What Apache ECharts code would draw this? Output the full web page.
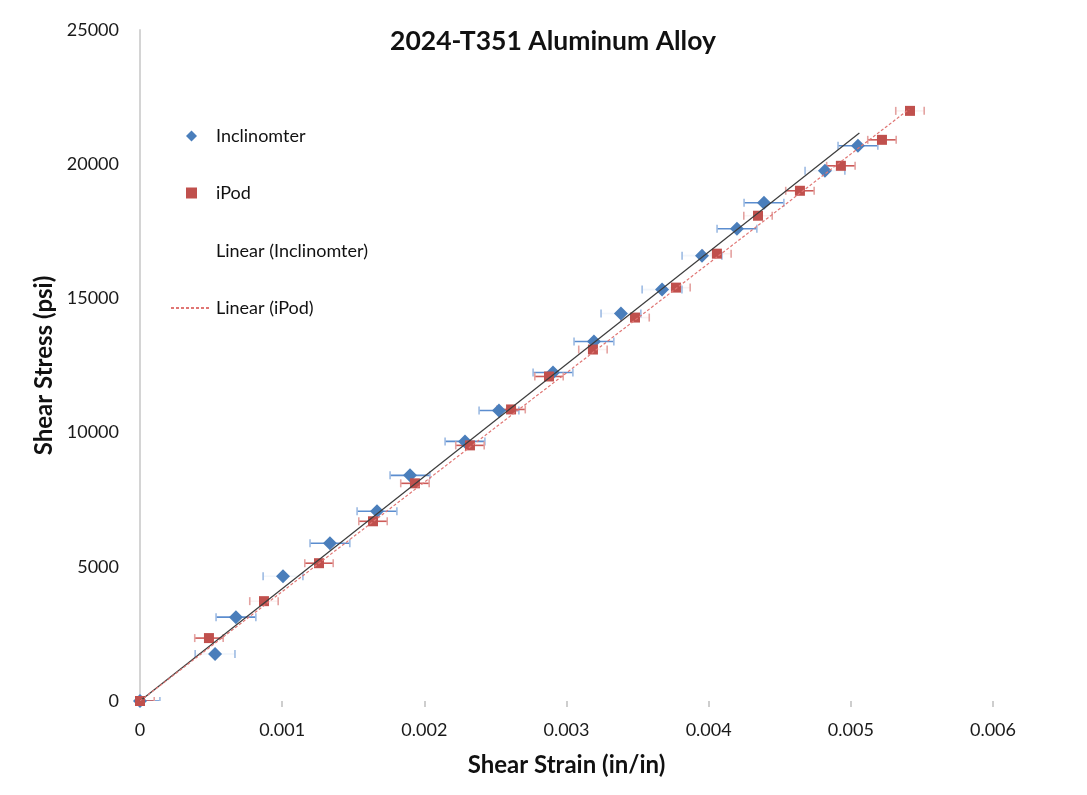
<!DOCTYPE html>
<html>
<head>
<meta charset="utf-8">
<script src="https://cdn.jsdelivr.net/npm/echarts@6/dist/echarts.min.js"></script>
<style>html,body{margin:0;padding:0;background:#fff;}#chart{width:1087px;height:795px;}</style>
</head>
<body>
<div id="chart"></div>
<script>
// Inclinometer data (shear strain in/in, shear stress psi)
var inclStrain = [0, 0.000528, 0.000675, 0.001006, 0.001336, 0.001667, 0.001899, 0.002286, 0.002525, 0.002905, 0.003193, 0.003383, 0.003672, 0.003953, 0.004199, 0.004389, 0.004818, 0.005050];
var inclStress = [0, 1750, 3125, 4650, 5878, 7068, 8408, 9673, 10826, 12240, 13393, 14435, 15327, 16592, 17597, 18564, 19754, 20685];
var inclErr    = [0.00014, 0.00014, 0.00014, 0.00014, 0.00014, 0.00014, 0.00014, 0.00014, 0.00014, 0.00014, 0.00014, 0.00014, 0.00014, 0.00014, 0.00014, 0.00014, 0.00014, 0.00014];
var inclBarFaint = [0, 1, 0, 1, 0, 0, 0, 0, 0, 0, 0, 1, 1, 1, 0, 0, 1, 0];

// iPod data
var ipodStrain = [0, 0.000485, 0.000872, 0.001259, 0.001639, 0.001934, 0.002321, 0.002610, 0.002877, 0.003186, 0.003482, 0.003770, 0.004058, 0.004347, 0.004642, 0.004930, 0.005219, 0.005416];
var ipodStress = [0, 2344, 3720, 5134, 6696, 8110, 9524, 10863, 12091, 13095, 14286, 15402, 16667, 18080, 19010, 19940, 20908, 21987];
var ipodErr    = [0.0001, 0.0001, 0.0001, 0.0001, 0.0001, 0.0001, 0.0001, 0.0001, 0.0001, 0.0001, 0.0001, 0.0001, 0.0001, 0.0001, 0.0001, 0.0001, 0.0001, 0.0001];
var ipodBarFaint = [0, 0, 1, 0, 0, 0, 0, 0, 0, 1, 1, 1, 1, 1, 0, 0, 0, 1];

// Linear trend lines (endpoints)
var inclTrendStrain = [0, 0.00506];
var inclTrendStress = [0, 21160];
var ipodTrendStrain = [0, 0.00541];
var ipodTrendStress = [0, 22050];

// Axis ticks
var xTicks = [0, 0.001, 0.002, 0.003, 0.004, 0.005, 0.006];
var yTicks = [0, 5000, 10000, 15000, 20000, 25000];

var FONT = 'Lato';
function pairs(a, b) { return a.map(function (v, i) { return [v, b[i]]; }); }
function errData(xs, ys, es, fs) { return xs.map(function (v, i) { return [v, ys[i], es[i], fs[i]]; }); }

function errRender(lineColor, capColor) {
  return function (params, api) {
    var x = api.value(0), y = api.value(1), e = api.value(2), faint = api.value(3);
    var p0 = api.coord([x - e, y]);
    var p1 = api.coord([x + e, y]);
    var h = 4;
    var children = [
      { type: 'line', shape: { x1: p0[0], y1: p0[1], x2: p1[0], y2: p1[1] },
        style: { stroke: lineColor, lineWidth: 1.6, opacity: faint ? 0.08 : 1 } },
      { type: 'line', shape: { x1: p0[0], y1: p0[1] - h, x2: p0[0], y2: p0[1] + h },
        style: { stroke: capColor, lineWidth: 1.6 } },
      { type: 'line', shape: { x1: p1[0], y1: p1[1] - h, x2: p1[0], y2: p1[1] + h },
        style: { stroke: capColor, lineWidth: 1.6 } }
    ];
    return { type: 'group', children: children };
  };
}

var legendText = { fontFamily: FONT, fontSize: 18, color: '#111', lineHeight: 22 };

var chart = echarts.init(document.getElementById('chart'));
chart.setOption({
  backgroundColor: '#ffffff',
  animation: false,
  title: {
    text: '2024-T351 Aluminum Alloy',
    left: 548, top: 23, textAlign: 'center',
    textStyle: { fontFamily: FONT, fontWeight: 'bold', fontSize: 26.5, color: '#111' }
  },
  grid: { left: 140, right: 94, top: 30, bottom: 94 },
  legend: [
    {
      orient: 'vertical', left: 181, top: 120,
      itemWidth: 11, itemHeight: 11, itemGap: 35,
      textStyle: Object.assign({ padding: [0, 0, 0, 14] }, legendText),
      data: [
        { name: 'Inclinomter', icon: 'diamond' },
        { name: 'iPod', icon: 'rect' }
      ]
    },
    {
      orient: 'vertical', left: 165, top: 235,
      itemWidth: 40, itemHeight: 10, itemGap: 35,
      textStyle: legendText,
      data: [
        { name: 'Linear (Inclinomter)', lineStyle: { opacity: 0 }, itemStyle: { opacity: 0 } },
        { name: 'Linear (iPod)', itemStyle: { opacity: 0 } }
      ]
    }
  ],
  xAxis: {
    type: 'value', min: 0, max: 0.006, interval: 0.001,
    name: 'Shear Strain (in/in)', nameLocation: 'middle', nameGap: 52,
    nameTextStyle: { fontFamily: FONT, fontWeight: 'bold', fontSize: 24, color: '#111' },
    axisLine: { show: false },
    axisTick: { show: true, length: 6, lineStyle: { color: '#bfbfbf', width: 1.5 } },
    splitLine: { show: false },
    axisLabel: {
      fontFamily: FONT, fontSize: 18, color: '#1a1a1a', margin: 20,
      formatter: function (v) { return xTicks.indexOf(+v.toFixed(3)) >= 0 ? String(+v.toFixed(3)) : ''; }
    }
  },
  yAxis: {
    type: 'value', min: 0, max: 25000, interval: 5000,
    name: 'Shear Stress (psi)', nameLocation: 'middle', nameGap: 83,
    nameTextStyle: { fontFamily: FONT, fontWeight: 'bold', fontSize: 24, color: '#111' },
    axisLine: { show: true, lineStyle: { color: '#d4d4d4', width: 2 } },
    axisTick: { show: false },
    splitLine: { show: false },
    axisLabel: {
      fontFamily: FONT, fontSize: 18, color: '#1a1a1a', margin: 21,
      formatter: function (v) { return yTicks.indexOf(v) >= 0 ? String(v) : ''; }
    }
  },
  series: [
    {
      name: 'incl-err', type: 'custom', clip: true, z: 2,
      renderItem: errRender('#5b8dcf', '#9dbbe3'),
      data: errData(inclStrain, inclStress, inclErr, inclBarFaint),
      encode: { x: 0, y: 1 }, silent: true
    },
    {
      name: 'ipod-err', type: 'custom', clip: true, z: 2,
      renderItem: errRender('#cc5a57', '#e4a2a0'),
      data: errData(ipodStrain, ipodStress, ipodErr, ipodBarFaint),
      encode: { x: 0, y: 1 }, silent: true
    },
    {
      name: 'Inclinomter', type: 'scatter', symbol: 'diamond', symbolSize: 14, z: 3,
      itemStyle: { color: '#4a7ebb', opacity: 1 },
      data: pairs(inclStrain, inclStress)
    },
    {
      name: 'iPod', type: 'scatter', symbol: 'rect', symbolSize: 10, z: 3,
      itemStyle: { color: '#c0504d', opacity: 1 },
      data: pairs(ipodStrain, ipodStress)
    },
    {
      name: 'Linear (Inclinomter)', type: 'line', symbol: 'none', z: 4,
      itemStyle: { color: '#3c3c3c' },
      lineStyle: { color: '#3c3c3c', width: 1.2 },
      data: pairs(inclTrendStrain, inclTrendStress)
    },
    {
      name: 'Linear (iPod)', type: 'line', symbol: 'none', z: 4,
      itemStyle: { color: '#e07674' },
      lineStyle: { color: '#e07674', width: 1.2, type: [3, 2] },
      data: pairs(ipodTrendStrain, ipodTrendStress)
    }
  ]
});
</script>
</body>
</html>
